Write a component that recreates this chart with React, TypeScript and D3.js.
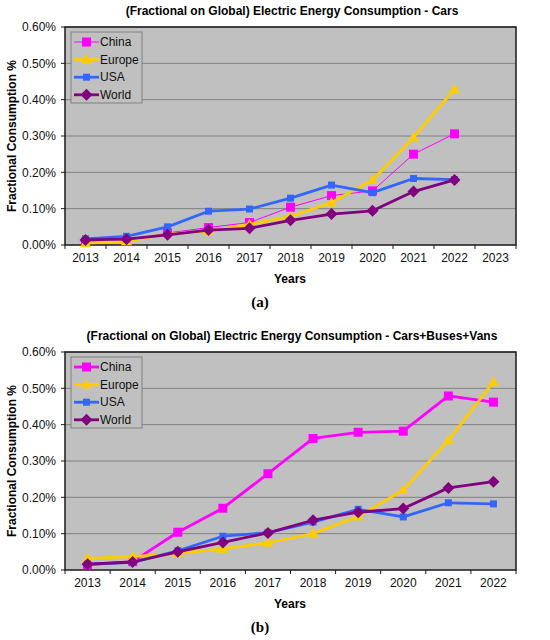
import React, { useEffect, useRef } from 'react';
import * as d3 from 'd3';

// chart (a) - cars only
const yearsA = ['2013', '2014', '2015', '2016', '2017', '2018', '2019', '2020', '2021', '2022', '2023'];
const chinaA = [0.008, 0.01, 0.033, 0.048, 0.062, 0.104, 0.136, 0.149, 0.25, 0.306];
const europeA = [0.005, 0.01, 0.03, 0.038, 0.057, 0.078, 0.117, 0.179, 0.296, 0.429];
const usaA = [0.017, 0.024, 0.05, 0.093, 0.099, 0.129, 0.165, 0.144, 0.183, 0.18];
const worldA = [0.014, 0.016, 0.028, 0.041, 0.046, 0.068, 0.085, 0.094, 0.147, 0.179];

// chart (b) - cars + buses + vans
const yearsB = ['2013', '2014', '2015', '2016', '2017', '2018', '2019', '2020', '2021', '2022'];
const chinaB = [0.014, 0.023, 0.104, 0.17, 0.265, 0.362, 0.379, 0.382, 0.479, 0.462];
const europeB = [0.032, 0.037, 0.046, 0.058, 0.075, 0.1, 0.147, 0.22, 0.357, 0.518];
const usaB = [0.016, 0.021, 0.053, 0.093, 0.103, 0.132, 0.167, 0.146, 0.185, 0.182];
const worldB = [0.016, 0.022, 0.05, 0.076, 0.102, 0.137, 0.159, 0.169, 0.226, 0.243];

const yTicks = [0, 0.1, 0.2, 0.3, 0.4, 0.5, 0.6];
const seriesNames = ['China', 'Europe', 'USA', 'World'];
const seriesColors = ['#ff00ff', '#ffcc00', '#3366ff', '#800080'];
const seriesShapes = ['square', 'triangle', 'smallSquare', 'diamond'];

const FONT = '"Liberation Sans", Arial, sans-serif';

const markerPath = (shape: string) => {
  if (shape === 'square') return 'M-4.5,-4.5H4.5V4.5H-4.5Z';
  if (shape === 'smallSquare') return 'M-3.5,-3.5H3.5V3.5H-3.5Z';
  if (shape === 'triangle') return 'M0,-5.5L5.5,4L-5.5,4Z';
  return 'M0,-6L6,0L0,6L-6,0Z';
};

interface PanelProps {
  g: d3.Selection<SVGGElement, unknown, null, undefined>;
  top: number;
  title: string;
  years: string[];
  series: number[][];
  chinaWidth: number;
  caption: string;
}

const drawPanel = ({ g, top, title, years, series, chinaWidth, caption }: PanelProps) => {
  const left = 65;
  const right = 516;
  const plotTop = top;
  const plotBottom = top + 218;

  const x = d3.scaleBand().domain(years).range([left, right]);
  const y = d3.scaleLinear().domain([0, 0.6]).range([plotBottom, plotTop]);

  g.append('rect')
    .attr('x', left).attr('y', plotTop)
    .attr('width', right - left).attr('height', plotBottom - plotTop)
    .attr('fill', '#c0c0c0');

  // gridlines
  g.selectAll('.grid').data(yTicks.slice(1)).enter().append('line')
    .attr('x1', left).attr('x2', right)
    .attr('y1', d => y(d)).attr('y2', d => y(d))
    .attr('stroke', '#808080').attr('stroke-width', 1);

  g.append('rect')
    .attr('x', left).attr('y', plotTop)
    .attr('width', right - left).attr('height', plotBottom - plotTop)
    .attr('fill', 'none').attr('stroke', '#1a1a1a').attr('stroke-width', 1.5);

  // y ticks + labels
  g.selectAll('.yt').data(yTicks).enter().append('line')
    .attr('x1', left - 4).attr('x2', left)
    .attr('y1', d => y(d)).attr('y2', d => y(d))
    .attr('stroke', '#1a1a1a');
  g.selectAll('.yl').data(yTicks).enter().append('text')
    .attr('x', left - 9).attr('y', d => y(d))
    .attr('dy', '0.35em').attr('text-anchor', 'end')
    .style('font-family', FONT).style('font-size', '12px').style('fill', '#111')
    .text(d => d3.format('.2f')(d) + '%');

  // x ticks + labels
  const bounds = years.map(v => x(v)!).concat([right]);
  g.selectAll('.xt').data(bounds).enter().append('line')
    .attr('x1', d => d).attr('x2', d => d)
    .attr('y1', plotBottom).attr('y2', plotBottom + 4)
    .attr('stroke', '#1a1a1a');
  g.selectAll('.xl').data(years).enter().append('text')
    .attr('x', d => x(d)! + x.bandwidth() / 2).attr('y', plotBottom + 13)
    .attr('dy', '0.35em').attr('text-anchor', 'middle')
    .style('font-family', FONT).style('font-size', '12px').style('fill', '#111')
    .text(d => d);

  g.append('text')
    .attr('x', 292).attr('y', plotTop - 16)
    .attr('dy', '0.35em').attr('text-anchor', 'middle')
    .style('font-family', FONT).style('font-size', '12px').style('font-weight', 'bold')
    .text(title);

  g.append('text')
    .attr('x', 290).attr('y', plotBottom + 34)
    .attr('dy', '0.35em').attr('text-anchor', 'middle')
    .style('font-family', FONT).style('font-size', '12px').style('font-weight', 'bold')
    .text('Years');

  g.append('text')
    .attr('transform', `translate(12,${(plotTop + plotBottom) / 2}) rotate(-90)`)
    .attr('dy', '0.35em').attr('text-anchor', 'middle')
    .style('font-family', FONT).style('font-size', '12px').style('font-weight', 'bold')
    .text('Fractional Consumption %');

  g.append('text')
    .attr('x', 260).attr('y', plotBottom + 57)
    .attr('dy', '0.35em').attr('text-anchor', 'middle')
    .style('font-family', '"Liberation Serif", "Times New Roman", serif')
    .style('font-size', '15px').style('font-weight', 'bold')
    .text(caption);

  // series
  const line = d3.line<number>()
    .x((_, i) => x(years[i])! + x.bandwidth() / 2)
    .y(d => y(d));

  series.forEach((vals, si) => {
    g.append('path')
      .attr('d', line(vals))
      .attr('fill', 'none')
      .attr('stroke', seriesColors[si])
      .attr('stroke-width', si === 0 ? chinaWidth : 2.8)
      .attr('stroke-linejoin', 'round');
    g.selectAll(`.m${si}`).data(vals).enter().append('path')
      .attr('d', markerPath(seriesShapes[si]))
      .attr('transform', (d, i) => `translate(${x(years[i])! + x.bandwidth() / 2},${y(d)})`)
      .attr('fill', seriesColors[si]);
  });

  // legend
  const lx = 71;
  const ly = plotTop + 5;
  g.append('rect')
    .attr('x', lx).attr('y', ly).attr('width', 71).attr('height', 71)
    .attr('fill', '#c0c0c0').attr('stroke', '#808080').attr('stroke-width', 1);
  seriesNames.forEach((name, si) => {
    const cy = ly + 10 + si * 17.6;
    g.append('line')
      .attr('x1', lx + 3).attr('x2', lx + 28)
      .attr('y1', cy).attr('y2', cy)
      .attr('stroke', seriesColors[si])
      .attr('stroke-width', si === 0 ? chinaWidth : 2.8);
    g.append('path')
      .attr('d', markerPath(seriesShapes[si]))
      .attr('transform', `translate(${lx + 15.5},${cy})`)
      .attr('fill', seriesColors[si]);
    g.append('text')
      .attr('x', lx + 29).attr('y', cy)
      .attr('dy', '0.35em')
      .style('font-family', FONT).style('font-size', '12px').style('fill', '#111')
      .text(name);
  });
};

const App: React.FC = () => {
  const svgRef = useRef<SVGSVGElement>(null);

  useEffect(() => {
    if (!svgRef.current) return;
    const svg = d3.select(svgRef.current);
    svg.selectAll('*').remove();

    drawPanel({
      g: svg.append('g'),
      top: 27,
      title: '(Fractional on Global) Electric Energy Consumption - Cars',
      years: yearsA,
      series: [chinaA, europeA, usaA, worldA],
      chinaWidth: 1,
      caption: '(a)',
    });

    drawPanel({
      g: svg.append('g'),
      top: 352,
      title: '(Fractional on Global) Electric Energy Consumption - Cars+Buses+Vans',
      years: yearsB,
      series: [chinaB, europeB, usaB, worldB],
      chinaWidth: 2.8,
      caption: '(b)',
    });
  }, []);

  return (
    <svg
      ref={svgRef}
      width={550}
      height={640}
      style={{ position: 'absolute', left: 0, top: 0, background: '#fff' }}
    />
  );
};

export default App;
